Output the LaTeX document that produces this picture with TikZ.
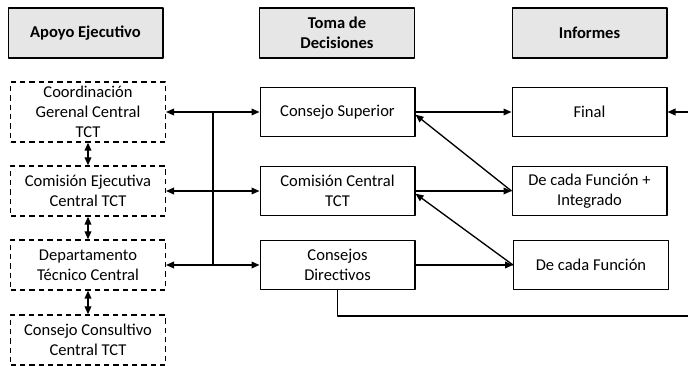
\documentclass[tikz,border=0pt]{standalone}
\usepackage{fontspec}
\setmainfont{Carlito}
\usetikzlibrary{arrows.meta}
\definecolor{headgray}{RGB}{231,230,230}
\begin{document}
\begin{tikzpicture}[x=0.75pt, y=-0.75pt, font=\fontsize{12.4}{15}\selectfont, line join=round, line width=1pt, >={Triangle[length=6pt,width=5pt]},
	head/.style={draw, fill=headgray, minimum width=116pt, minimum height=37.5pt, inner sep=1pt, align=center, font=\fontsize{12.4}{15}\selectfont\bfseries},
	apoyo/.style={draw, dashed, dash pattern=on 4pt off 3pt, minimum width=116pt, minimum height=37.5pt, inner sep=0.5pt, align=center},
	caja/.style={draw, minimum width=116pt, minimum height=37pt, inner sep=1pt, align=center}]
	\useasboundingbox (0,0) rectangle (688,366);
	\def\bus{213}
	% cabeceras
	\node[head] (hapoyo) at (85.5,33) {Apoyo Ejecutivo};
	\node[head] (htoma) at (337,33) {Toma de\\Decisiones};
	\node[head] (hinf) at (589.5,33) {Informes};
	% apoyo ejecutivo
	\node[apoyo, minimum height=45pt] (cgc) at (88,112) {Coordinación\\Gerenal Central\\TCT};
	\node[apoyo] (cej) at (88,191) {Comisión Ejecutiva\\Central TCT};
	\node[apoyo] (dtc) at (88,265) {Departamento\\Técnico Central};
	\node[apoyo] (ccc) at (88,340) {Consejo Consultivo\\Central TCT};
	% toma de decisiones
	\node[caja] (csup) at (337.5,112) {Consejo Superior};
	\node[caja] (ccen) at (337.5,191) {Comisión Central\\TCT};
	\node[caja] (cdir) at (337.5,265) {Consejos\\Directivos};
	% informes
	\node[caja] (fin) at (589.5,112) {Final};
	\node[caja] (integ) at (589.5,191) {De cada Función +\\Integrado};
	\node[caja] (dcf) at (591,265) {De cada Función};
	\path (\bus,112) coordinate (b1)
		(\bus,191) coordinate (b2)
		(\bus,265) coordinate (b3)
		(700,316) coordinate (lr);
	\draw (b1)--(b3);
	\foreach \i/\a/\b in {1/cgc/csup,2/cej/ccen,3/dtc/cdir}{
		\draw[->] (b\i)--(\a.east);
		\draw[->] (b\i)--(\b.west);}
	\foreach \a/\b in {cgc/cej,cej/dtc,dtc/ccc}
		\draw[<->] (\a.south)--(\b.north);
	\foreach \a/\b in {csup/fin,ccen/integ,cdir/dcf}
		\draw[->] (\a.east)--(\b.west);
	\draw[->] (integ.west)--([yshift=-2pt]csup.east);
	\draw[->] (dcf.west)--([yshift=-2pt]ccen.east);
	\draw[->] (cdir.south) |- (lr) |- (fin.east);
\end{tikzpicture}
\end{document}
